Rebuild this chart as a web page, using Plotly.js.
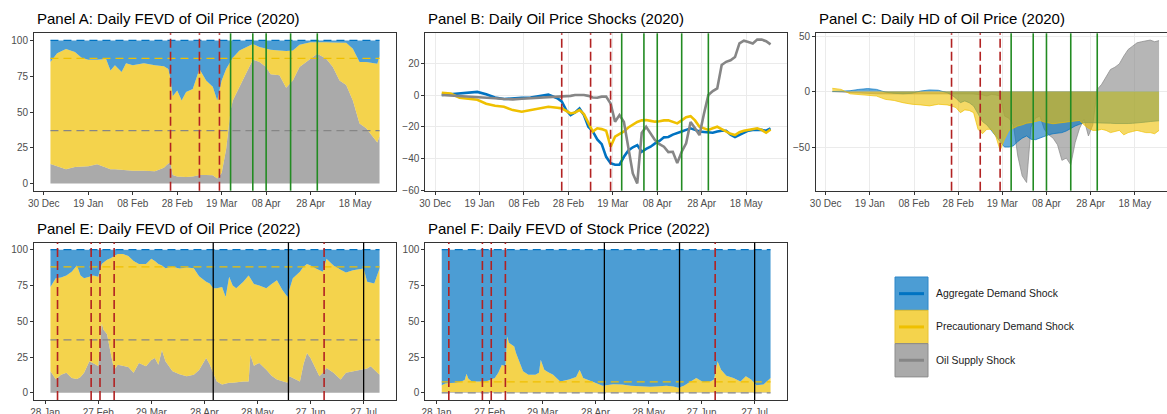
<!DOCTYPE html>
<html><head><meta charset="utf-8">
<script src="https://cdn.plot.ly/plotly-3.0.1.min.js"></script>
<style>html,body{margin:0;padding:0;background:#fff;}#chart{width:1167px;height:414px;}</style>
</head><body><div id="chart"></div>
<script>
// ---------------- DATA ----------------
// Panel A: daily FEVD of oil price (2020), shares in %
const aDates = ['2020-01-02','2020-01-05','2020-01-09','2020-01-13','2020-01-16','2020-01-19','2020-01-23','2020-01-27','2020-01-29','2020-01-31',
 '2020-02-03','2020-02-05','2020-02-08','2020-02-13','2020-02-18','2020-02-22','2020-02-24','2020-02-25','2020-02-26','2020-02-28',
 '2020-03-01','2020-03-03','2020-03-06','2020-03-09','2020-03-12','2020-03-15','2020-03-17','2020-03-19','2020-03-21','2020-03-23',
 '2020-03-24','2020-03-27','2020-03-30','2020-04-02','2020-04-05','2020-04-08','2020-04-10','2020-04-14','2020-04-17','2020-04-20',
 '2020-04-23','2020-04-28','2020-05-01','2020-05-05','2020-05-08','2020-05-11','2020-05-14','2020-05-17','2020-05-20','2020-05-23',
 '2020-05-26','2020-05-28','2020-05-29'];
const aSupply = [13.7,12,10,11.5,12,12,13.5,11,10,10, 9.5,9,9,9,8.6,11,14,14.5,6,5, 4.5,4.5,5,6,6,5.8,3.5,7.4,24,51,
 58,67.6,78,86.6,85,81.5,76.4,75.7,67,72, 81.5,87.3,90.7,87.3,81.5,72,68.8,58,42,38.7, 33,28.7,33];
const aPrecaution = [71.3,79,84,80.5,76,74.6,73.1,76,69,72.6, 68.5,75,73.6,75,74,71,66,58.5,55,60, 53.5,59.5,61,74,66,61.8,54.5,64.6,56,35,
 30,25.4,17,10.9,10.4,12.7,17.1,17.3,25.6,21, 15.5,11.5,8.3,11.5,17,26.4,29.6,36.2,43,46.3, 51.5,55.1,55.9];
const aAggDemand = [15,9,6,8,12,13.4,13.4,13,21,17.4, 22,16,17.4,16,17.4,18,20,27,39,35, 42,36,34,20,28,32.4,42,28,20,14,
 12,7,5,2.5,4.6,5.8,6.5,7,7.4,7, 3,1.2,1,1.2,1.5,1.6,1.6,5.8,15,15, 15.5,16.2,11.1];
const aRefLevels = [37, 87.5, 100]; // unconditional: supply, +precautionary, +aggregate

// Panels B and C (2020)
const bcDates = ['2020-01-02','2020-01-06','2020-01-10','2020-01-14','2020-01-18','2020-01-22','2020-01-26','2020-01-30','2020-02-03','2020-02-07','2020-02-11','2020-02-15','2020-02-19','2020-02-23',
 '2020-02-25','2020-02-27','2020-02-29','2020-03-02','2020-03-04','2020-03-06','2020-03-08','2020-03-10','2020-03-12','2020-03-14',
 '2020-03-16','2020-03-18','2020-03-20','2020-03-22','2020-03-24','2020-03-26','2020-03-28','2020-03-30','2020-04-01','2020-04-03',
 '2020-04-05','2020-04-07','2020-04-09','2020-04-11','2020-04-13','2020-04-15','2020-04-17','2020-04-19','2020-04-21','2020-04-23',
 '2020-04-25','2020-04-27','2020-04-29','2020-05-01','2020-05-03','2020-05-05','2020-05-07','2020-05-09','2020-05-11','2020-05-13',
 '2020-05-15','2020-05-17','2020-05-19','2020-05-21','2020-05-23','2020-05-25','2020-05-27','2020-05-29'];
const bAggDemand = [0,0.5,1,1.5,2,0.5,-1.5,-2.5,-2,-1.8,-1.5,-0.8,0.3,-2,
 -4,-9.5,-12.6,-11,-8.5,-12.6,-20,-23,-28,-31,
 -39,-43,-44,-44,-39,-35,-33,-31.6,-35.8,-34,
 -32.6,-30.5,-29,-26.7,-26.5,-25,-24.2,-23,-22,-21,
 -22,-23,-23.3,-23.6,-23.8,-23,-22.5,-22.5,-25,-26.5,
 -25,-23.8,-22.5,-22,-22,-22,-22.5,-21];
const bPrecaution = [1.5,1,-1.7,-2.5,-3,-5.5,-6.8,-7.4,-9.5,-10.5,-9.5,-8.6,-7.4,-8,
 -8.4,-10,-11.6,-11,-9.5,-12,-18,-23,-21,-21.5,
 -22.5,-32.6,-26.3,-24.5,-23,-20.5,-18.5,-17,-16,-15.8,
 -16.3,-16.8,-16.5,-16,-16,-17,-17.9,-16,-14,-13.3,
 -16,-20,-21,-22,-21,-20,-21.5,-23,-24.5,-25.3,
 -23.5,-22.5,-22,-21.5,-21,-22,-23.8,-21.7];
const bSupply = [0,-0.3,-0.6,-0.8,-1,-1.5,-2,-2.5,-2.7,-2.3,-2,-2,-1.5,-1.2,
 -1,-1,-0.5,0,0,0,-0.5,-1.5,-1.7,-1,
 -1,-5.3,-16.8,-12.6,-17,-34.7,-49.5,-55.8,-24,-20,
 -24,-28.5,-31,-32.6,-36,-35.8,-43,-35.8,-30.5,-17,
 -21,-25.3,-12,0,2.5,4.2,19,21,22,24,
 32.6,34.3,33.5,32.6,35,35,34,32];
const cAggDemand = [0,0.3,0.8,2,2.7,2,-0.5,-1.5,-2,-1.5,0.5,1.5,1.2,-1,
 -3,-6,-10,-8.4,-10,-13,-20,-27,-30,-35,
 -40,-46,-50,-50,-49,-45,-42,-40,-43,-43.4,
 -42,-40,-39,-38,-37.5,-37,-35.5,-33,-31,-29.5,
 -28,-28,-28,-28,-28.3,-28.4,-28.5,-28.8,-29,-29,
 -28.8,-28.6,-28.4,-28,-27.5,-27,-26.8,-26.3];
const cPrecaution = [3,2,-2,-2.8,-3.3,-4,-7,-8,-10,-11.4,-12,-12.9,-11.4,-12,
 -13,-14.4,-19,-16.5,-17,-19,-34,-38,-34,-34,
 -40,-53,-43,-35,-33,-31,-30,-28.5,-28,-27,
 -26,-27.5,-28.5,-29,-28.5,-28,-28,-27,-26.5,-26,
 -30,-33,-35,-35,-34,-35,-37,-36,-35,-39,
 -37,-36,-35,-36,-37,-37,-38,-35];
const cSupply = [0,-0.5,-1,-1,-1.5,-2,-2,-2,-2,-2,-2,-2,-1.8,-1.5,
 -1.5,-1.5,-1.8,-2,-2,-2.2,-2.4,-3,-4,-2.5,
 -3,-4,-22,-24,-30,-58,-76,-82,-32,-24,
 -22,-34,-39,-42,-48,-62,-60,-66,-46,-33,
 -25,-40,-30,2,6.6,14,20,22,25,32,
 38,41,44,45,45.5,46.5,45,46];

// Panel E: daily FEVD of oil price (2022)
const eDates = ['2022-01-31','2022-02-03','2022-02-06','2022-02-09','2022-02-12','2022-02-15','2022-02-17','2022-02-19','2022-02-22','2022-02-24',
 '2022-02-26','2022-02-27','2022-02-28','2022-03-01','2022-03-02','2022-03-04','2022-03-06','2022-03-08','2022-03-10','2022-03-13',
 '2022-03-16','2022-03-19','2022-03-22','2022-03-26','2022-03-29','2022-03-31','2022-04-02','2022-04-04','2022-04-06','2022-04-10',
 '2022-04-14','2022-04-18','2022-04-22','2022-04-25','2022-04-29','2022-05-01','2022-05-03','2022-05-05','2022-05-08','2022-05-10',
 '2022-05-12','2022-05-14','2022-05-16','2022-05-20','2022-05-23','2022-05-24','2022-05-26','2022-05-29','2022-06-02','2022-06-05',
 '2022-06-08','2022-06-11','2022-06-14','2022-06-15','2022-06-17','2022-06-21','2022-06-23','2022-06-25','2022-06-27','2022-06-30',
 '2022-07-02','2022-07-04','2022-07-06','2022-07-10','2022-07-14','2022-07-17','2022-07-21','2022-07-25','2022-07-27','2022-07-29',
 '2022-07-31','2022-08-02','2022-08-05'];
const eSupply = [15,9.5,12.7,14,10.4,9.7,11,14,22,21, 19.5,18.5,35,48.6,44,41,28,16.2,19.7,19,
 18,14,20.8,18.5,23,24.3,19.7,30,22,15, 13,11.6,12.7,16,24.3,20,14,8,5.8,6.5,
 7,7,7.5,8,8,26.6,19,20.8,16.2,12, 9.3,8,7,11.6,10.4,8,20,27.8,24.3,16.2,
 11.6,14,17.4,14,9.3,14,15,16,16.2,17, 18.5,16.2,12.7];
const ePrecaution = [59,70.5,67.8,68,74.1,79.3,71,66,59,61, 62,62.5,51,41.4,47,52,66,79.3,77.3,78,
 77.5,78,69.2,71.5,70.7,67.7,70.3,59,65,73, 73.8,75.9,74.3,65.5,53.2,56.4,59,65,68.2,60.5,
 74,68,65.5,69.5,74,53.4,57,54.2,56.8,64, 69.4,64,60,60.4,69.6,76.5,68,62.2,64.7,70.6,
 73.9,70.5,76.3,75,76.7,70,70.6,70.5,70.6,60.5, 58.5,60.2,74.1];
const eAggDemand = [26,20,19.5,18,15.5,11,18,20,19,18, 18.5,19,14,10,9,7,6,4.5,3,3,
 4.5,8,10,10,6.3,8,10,11,13,12, 13.2,12.5,13,18.5,22.5,23.6,27,27,26,33,
 19,25,27,22.5,18,20,24,25,27,24, 21.3,28,33,28,20,15.5,12,10,11,13.2,
 14.5,15.5,6.3,11,14,16,14.4,13.5,13.2,22.5, 23,23.6,13.2];
const eRefLevels = [37, 88, 100];

// Panel F: daily FEVD of stock price (2022)
const fDates = ['2022-01-31','2022-02-02','2022-02-05','2022-02-08','2022-02-11','2022-02-13','2022-02-14','2022-02-15','2022-02-17','2022-02-21',
 '2022-02-25','2022-02-28','2022-03-02','2022-03-04','2022-03-06','2022-03-08','2022-03-09','2022-03-10','2022-03-12','2022-03-13',
 '2022-03-14','2022-03-16','2022-03-18','2022-03-21','2022-03-25','2022-03-27','2022-03-28','2022-03-30','2022-04-01','2022-04-04',
 '2022-04-08','2022-04-13','2022-04-17','2022-04-19','2022-04-21','2022-04-26','2022-05-02','2022-05-08','2022-05-13','2022-05-18',
 '2022-05-23','2022-05-29','2022-06-03','2022-06-07','2022-06-11','2022-06-14','2022-06-17','2022-06-20','2022-06-24','2022-06-28',
 '2022-07-02','2022-07-04','2022-07-06','2022-07-08','2022-07-11','2022-07-15','2022-07-19','2022-07-22','2022-07-25','2022-07-28',
 '2022-08-01','2022-08-05'];
const fSupply = [0.5,0.5,0.5,0.5,0.5,0.5,0.5,0.5,0.5,0.5, 0.5,0.6,0.6,0.7,0.8,0.8,0.8,0.8,0.7,0.7,
 0.7,0.6,0.6,0.5,0.5,0.5,0.5,0.5,0.5,0.4, 0.4,0.4,0.4,0.4,0.4,0.4,0.3,0.3,0.3,0.3,
 0.3,0.3,0.3,0.3,0.3,0.3,0.3,0.4,0.4,0.4, 0.4,0.4,0.5,0.5,0.5,0.4,0.4,0.4,0.4,0.4, 0.4,0.4];
const fPrecaution = [4.8,6,6.3,6.5,7.5,8.5,12.9,9.5,7.5,7.5, 7.5,8.7,9.8,13.3,18.9,17.7,38.6,34.2,32.3,31.7,
 27.1,21.4,14.4,12.2,12.2,13.5,22.6,15.7,14,12.3, 7.6,8.9,10.6,15.8,10,7.6,4.7,5.7,5.5,4.7,
 4.5,3.9,4.3,4.7,4.2,3.2,4.7,7,10,7, 7.6,8.9,21.5,15.7,11.5,10,7.6,11.2,8.9,4.9, 5.4,10];
const fAggDemand = [94.7,93.5,93.2,93,92,91,86.6,90,92,92, 92,90.7,89.6,86,80.3,81.5,60.6,65,67,67.6,
 72.2,78,85,87.3,87.3,86,76.9,83.8,85.5,87.3, 92,90.7,89,83.8,89.6,92,95,94,94.2,95,
 95.2,95.8,95.4,95,95.5,96.5,95,92.6,89.6,92.6, 92,90.7,78,83.8,88,89.6,92,88.4,90.7,94.7, 94.2,89.6];
const fRefLevels = [0, 7.6, 100];

// Event dates (vertical lines)
const ev2020Red = ['2020-02-25','2020-03-09','2020-03-18'];
const ev2020Green = ['2020-03-23','2020-04-02','2020-04-08','2020-04-19','2020-05-01'];
const ev2022Red = ['2022-02-04','2022-02-23','2022-02-28','2022-03-08','2022-07-04 16:00'];
const ev2022Black = ['2022-05-03','2022-06-14 12:00','2022-07-27'];

const panelTitles = ['Panel A: Daily FEVD of Oil Price (2020)','Panel B: Daily Oil Price Shocks (2020)','Panel C: Daily HD of Oil Price (2020)',
 'Panel E: Daily FEVD of Oil Price (2022)','Panel F: Daily FEVD of Stock Price (2022)'];
const legendLabels = ['Aggregate Demand Shock','Precautionary Demand Shock','Oil Supply Shock'];

// ---------------- STYLE ----------------
const W = 1167, H = 414;
const LINE = {ad:'#0073C2', pd:'#EFC000', os:'#868686'};
const FILL7 = {ad:'rgba(0,115,194,0.7)', pd:'rgba(239,192,0,0.7)', os:'rgba(134,134,134,0.7)'};
const FILL6 = {ad:'rgba(0,115,194,0.6)', pd:'rgba(239,192,0,0.6)', os:'rgba(134,134,134,0.6)'};
const FONT = 'Liberation Sans, Arial, Helvetica, sans-serif';
const px = x => x / W, py = y => 1 - y / H;

const traces = [];
function stacked(dates, os, pd, ad, n, group) {
  [[os,'os'],[pd,'pd'],[ad,'ad']].forEach(([v,k]) => traces.push({
    type:'scatter', mode:'lines', x:dates, y:v, stackgroup:group, xaxis:'x'+n, yaxis:'y'+n,
    line:{width:0, color:LINE[k]}, fillcolor:FILL7[k], hoverinfo:'skip'}));
}
function refLines(dates, levels, n) {
  ['os','pd','ad'].forEach((k,i) => traces.push({
    type:'scatter', mode:'lines', x:[dates[0], dates[dates.length-1]], y:[levels[i], levels[i]],
    xaxis:'x'+n, yaxis:'y'+n, line:{color:LINE[k], width:1.3, dash:'8px,5px'}, hoverinfo:'skip'}));
}
stacked(aDates, aSupply, aPrecaution, aAggDemand, '', 'a');
refLines(aDates, aRefLevels, '');
// Panel B lines
[[bAggDemand,'ad'],[bPrecaution,'pd'],[bSupply,'os']].forEach(([v,k]) => traces.push({
  type:'scatter', mode:'lines', x:bcDates, y:v, xaxis:'x2', yaxis:'y2',
  line:{color:LINE[k], width:2.6}, hoverinfo:'skip'}));
// Panel C areas
[[cSupply,'os'],[cAggDemand,'ad'],[cPrecaution,'pd']].forEach(([v,k]) => traces.push({
  type:'scatter', mode:'lines', x:bcDates, y:v, xaxis:'x3', yaxis:'y3', fill:'tozeroy',
  fillcolor:FILL6[k], line:{color:LINE[k], width:0.7}, hoverinfo:'skip'}));
stacked(eDates, eSupply, ePrecaution, eAggDemand, '4', 'e');
refLines(eDates, eRefLevels, '4');
stacked(fDates, fSupply, fPrecaution, fAggDemand, '5', 'f');
refLines(fDates, fRefLevels, '5');

// Axes
const DAY = 86400000;
function xax(dom, range, tick0, dtickDays, grid) {
  return {domain:dom, range:range, type:'date', tick0:tick0, dtick:dtickDays*DAY, tickformat:'%d %b',
    showline:true, mirror:true, linecolor:'#333333', linewidth:1, ticks:'outside', ticklen:3, tickcolor:'#333333',
    tickfont:{size:10, color:'#4D4D4D', family:FONT}, showgrid:grid, gridcolor:'#EBEBEB', gridwidth:1, zeroline:false, fixedrange:true};
}
function yax(dom, range, tickvals, grid, anchor, mirror) {
  return {domain:dom, range:range, tickvals:tickvals, showline:true, mirror:mirror, linecolor:'#333333', linewidth:1,
    ticks:'outside', ticklen:3, tickcolor:'#333333', tickfont:{size:10, color:'#4D4D4D', family:FONT},
    showgrid:grid, gridcolor:'#EBEBEB', gridwidth:1, zeroline:false, anchor:anchor, fixedrange:true};
}
const colA = [px(34), px(396)], colB = [px(425.3), px(787)], colC = [px(816), 1];
const rowTop = [py(190.7), py(33.3)], rowBot = [py(400), py(242.5)];
const r2020 = ['2019-12-25 14:24','2020-06-05 09:36'];
const r2020C = ['2019-12-25 14:24','2020-06-01 14:24'];
const r2022 = ['2022-01-21 16:48','2022-08-14 07:12'];

const layout = {
  width:W, height:H, margin:{l:0,r:0,t:0,b:0}, paper_bgcolor:'#fff', plot_bgcolor:'#fff', showlegend:false,
  font:{family:FONT},
  xaxis: Object.assign(xax(colA, r2020, '2019-12-30', 20, false), {anchor:'y'}),
  yaxis: yax(rowTop, [-5,105], [0,25,50,75,100], false, 'x', true),
  xaxis2: Object.assign(xax(colB, r2020, '2019-12-30', 20, true), {anchor:'y2'}),
  yaxis2: yax(rowTop, [-60.4,39], [-60,-40,-20,0,20], true, 'x2', true),
  xaxis3: Object.assign(xax(colC, r2020C, '2019-12-30', 20, true), {anchor:'y3'}),
  yaxis3: yax(rowTop, [-89.4,52.6], [-50,0,50], true, 'x3', false),
  xaxis4: Object.assign(xax(colA, r2022, '2022-01-28', 30, false), {anchor:'y4'}),
  yaxis4: yax(rowBot, [-5,105], [0,25,50,75,100], false, 'x4', true),
  xaxis5: Object.assign(xax(colB, r2022, '2022-01-28', 30, false), {anchor:'y5'}),
  yaxis5: yax(rowBot, [-5,105], [0,25,50,75,100], false, 'x5', true),
  shapes:[], annotations:[]
};

function vlines(dates, n, color, dash, width) {
  dates.forEach(d => layout.shapes.push({type:'line', xref:'x'+n, yref:(n===''?'y':'y'+n)+' domain',
    x0:d, x1:d, y0:0, y1:1, line:{color:color, width:width, dash:dash}}));
}
['', '2', '3'].forEach(n => {
  vlines(ev2020Red, n, '#B22222', '9px,4px', 1.6);
  vlines(ev2020Green, n, '#228B22', 'solid', 1.6);
});
['4', '5'].forEach(n => {
  vlines(ev2022Red, n, '#B22222', '9px,4px', 1.6);
  vlines(ev2022Black, n, '#000000', 'solid', 1.3);
});

// Titles
const titlePos = [[35,18.5],[426,18.5],[817,18.5],[35,228],[426,228]];
panelTitles.forEach((t,i) => layout.annotations.push({text:t, xref:'paper', yref:'paper', x:px(titlePos[i][0]), y:py(titlePos[i][1]),
  xanchor:'left', yanchor:'middle', showarrow:false, font:{size:15, color:'#000', family:FONT}}));

// Legend (manual)
const keyTop = [277, 310.3, 343.6], keyH = 33.3, keyX0 = 895, keyX1 = 928;
const keyBorder = {ad:'#2C86C8', pd:'#E9C232', os:'#8C8C8C'};
['ad','pd','os'].forEach((k,i) => {
  const y0 = keyTop[i], y1 = y0 + keyH, ym = (y0 + y1) / 2;
  layout.shapes.push({type:'rect', xref:'paper', yref:'paper', x0:px(keyX0), x1:px(keyX1), y0:py(y1), y1:py(y0),
    fillcolor:FILL7[k], line:{color:keyBorder[k], width:1}});
  layout.shapes.push({type:'line', xref:'paper', yref:'paper', x0:px(keyX0+4), x1:px(keyX1-4), y0:py(ym), y1:py(ym),
    line:{color:LINE[k], width:3}});
  layout.annotations.push({text:legendLabels[i], xref:'paper', yref:'paper', x:px(934), y:py(ym),
    xanchor:'left', yanchor:'middle', showarrow:false, font:{size:10.4, color:'#1A1A1A', family:FONT}});
});

Plotly.newPlot('chart', traces, layout, {displayModeBar:false, staticPlot:true});
</script>
</body></html>
